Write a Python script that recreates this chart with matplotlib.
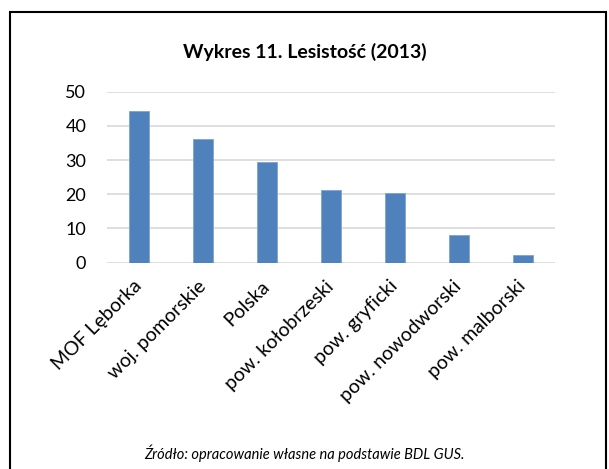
import matplotlib
matplotlib.use("Agg")
import matplotlib.pyplot as plt
from matplotlib.patches import Rectangle

categories = ["MOF Lęborka", "woj. pomorskie", "Polska", "pow. kołobrzeski",
              "pow. gryficki", "pow. nowodworski", "pow. malborski"]
values = [44.4, 36.2, 29.4, 21.3, 20.4, 8.0, 2.3]
yticks = [0, 10, 20, 30, 40, 50]
title = "Wykres 11. Lesistość (2013)"
source = "Źródło: opracowanie własne na podstawie BDL GUS."

plt.rcParams['font.family'] = ['Lato', 'DejaVu Sans']

fig = plt.figure(figsize=(6.09, 4.69), dpi=100)
ax = fig.add_axes([0.176, 0.440, 0.735, 0.3645])

x = list(range(len(categories)))
ax.bar(x, values, width=0.31, color="#4f81bd", edgecolor="#7ea3d3", linewidth=0.6, zorder=3)
ax.set_xlim(-0.5, len(categories) - 0.5)
ax.set_ylim(0, 50)
ax.set_yticks(yticks)
ax.set_yticklabels([str(t) for t in yticks], fontsize=13)
ax.yaxis.grid(True, color="#d9d9d9", linewidth=1.2, zorder=0)
ax.set_axisbelow(True)
for s in ax.spines.values():
    s.set_visible(False)
ax.tick_params(axis='y', length=0, pad=15)
ax.tick_params(axis='x', length=0, pad=15)
ax.set_xticks(x)
ax.set_xticklabels(categories, rotation=45, ha='right', va='center', rotation_mode='anchor', fontsize=14)

fig.text(0.5, 0.889, title, ha='center', va='center', fontsize=14, fontweight='bold')
fig.text(0.5, 0.034, source, ha='center', va='center', fontsize=10.5, style='italic')

fig.patches.append(Rectangle((10/609, -0.05), (606-10)/609, 1 - 12/469 + 0.05,
                             transform=fig.transFigure, fill=False,
                             edgecolor='black', linewidth=1.5))

fig.savefig("out.png", dpi=100)
